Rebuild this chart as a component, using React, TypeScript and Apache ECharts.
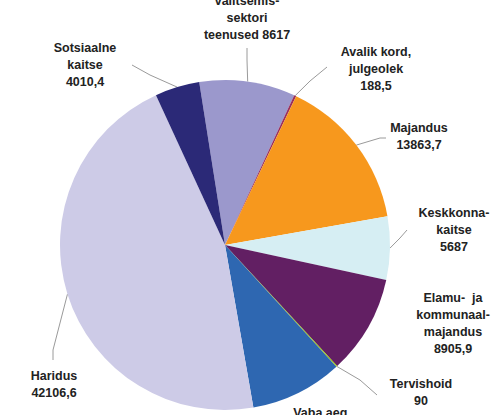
import React, { useEffect, useRef } from "react";
import * as echarts from "echarts";

const categories = [
  "Üldised valitsemissektori teenused",
  "Avalik kord, julgeolek",
  "Majandus",
  "Keskkonnakaitse",
  "Elamu- ja kommunaalmajandus",
  "Tervishoid",
  "Vaba aeg, kultuur ja religioon",
  "Haridus",
  "Sotsiaalne kaitse",
];
const values = [8617, 188.5, 13863.7, 5687, 8905.9, 90, 8300, 42106.6, 4010.4];
const labelTemplates = [
  "Üldised\nvalitsemis-\nsektori\nteenused {v}",
  "Avalik kord,\njulgeolek\n{v}",
  "Majandus\n{v}",
  "Keskkonna-\nkaitse\n{v}",
  "Elamu-  ja\nkommunaal-\nmajandus\n{v}",
  "Tervishoid\n{v}",
  "Vaba aeg,\nkultuur ja\nreligioon\n{v}",
  "Haridus\n{v}",
  "Sotsiaalne\nkaitse\n{v}",
];
const colors = [
  "#9b98cc",
  "#9a2f5c",
  "#f7981d",
  "#d6eef3",
  "#621f63",
  "#99cc00",
  "#2e67b1",
  "#cdcbe7",
  "#2b2977",
];

// label anchor (center x, top y) per slice
const labelPos: number[][] = [
  [247, -25],
  [376, 43.5],
  [419, 119.5],
  [454, 204.5],
  [453, 289.5],
  [421, 375],
  [322, 404.5],
  [54, 367.5],
  [85, 39.5],
];
// leader line end points (null = no leader)
const leaders: (number[][] | null)[] = [
  [[247, 60], [247, 48]],
  [[310, 81], [327, 67]],
  [[380, 138], [386, 138]],
  [[400, 238], [407, 230]],
  null,
  [[360, 380], [377, 395]],
  null,
  [[53, 350], [53, 360]],
  [[150, 75], [132, 65]],
];

const fmt = (v: number) => String(v).replace(".", ",");

export default function App() {
  const ref = useRef<HTMLDivElement>(null);
  useEffect(() => {
    if (!ref.current) return;
    const chart = echarts.init(ref.current, null, { renderer: "svg" });
    chart.setOption({
      animation: false,
      backgroundColor: "#ffffff",
      series: [
        {
          type: "pie",
          center: [225, 245],
          radius: 165,
          startAngle: 99,
          clockwise: true,
          silent: true,
          avoidLabelOverlap: false,
          emphasis: { disabled: true },
          itemStyle: { borderWidth: 0 },
          data: categories.map((name, i) => ({
            name,
            value: values[i],
            itemStyle: { color: colors[i] },
            labelLine: { show: leaders[i] !== null },
          })),
          label: {
            show: true,
            position: "outside",
            formatter: (p: any) =>
              labelTemplates[p.dataIndex].replace("{v}", fmt(p.value)),
            fontFamily: 'Arial, "Liberation Sans", sans-serif',
            fontWeight: "bold",
            fontSize: 12.5,
            lineHeight: 17,
            color: "#222222",
            align: "center",
          },
          labelLine: {
            show: true,
            lineStyle: { color: "#9a9a9a", width: 1 },
            length: 10,
            length2: 10,
          },
          labelLayout: (params: any) => {
            const i = params.dataIndex;
            const p = labelPos[i];
            const res: any = {
              x: p[0],
              y: p[1],
              align: "center",
              verticalAlign: "top",
            };
            const l = leaders[i];
            if (l && params.labelLinePoints) {
              res.labelLinePoints = [params.labelLinePoints[0], l[0], l[1]];
            }
            return res;
          },
        },
      ],
    });
    return () => chart.dispose();
  }, []);
  return (
    <div
      ref={ref}
      style={{ position: "fixed", left: 0, top: 0, width: 491, height: 415 }}
    />
  );
}
